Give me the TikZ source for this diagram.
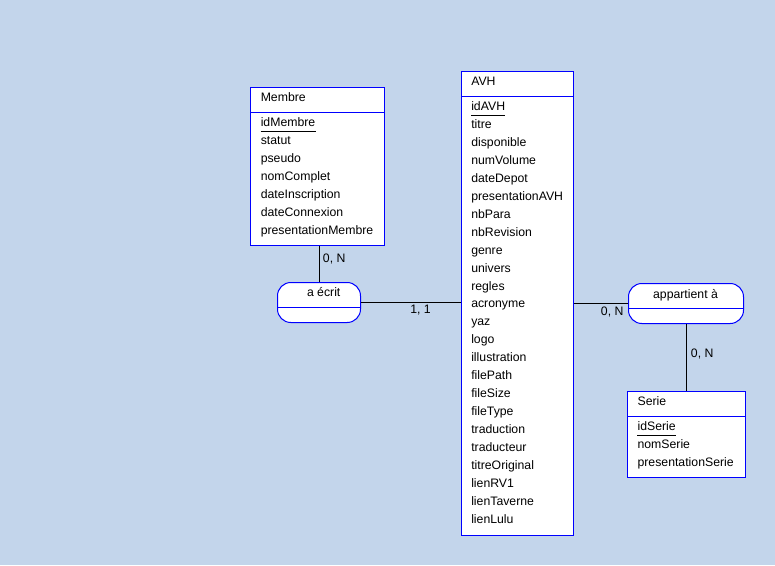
\documentclass[tikz,border=0pt]{standalone}
\usepackage{fontspec}
\setmainfont{Liberation Sans}
\definecolor{bg}{RGB}{195,213,235}
\begin{document}
\begin{tikzpicture}[x=0.75pt,y=-0.75pt,
  entity/.style={draw=blue, line width=0.75pt, fill=white, inner sep=0pt, anchor=north west},
  assoc/.style={entity, rounded corners=10pt},
  sep/.style={draw=blue, line width=0.75pt},
  txt/.style={inner sep=0pt, anchor=base west, font=\fontsize{9.2}{11}\selectfont},
  ctxt/.style={inner sep=0pt, anchor=base, font=\fontsize{9.2}{11}\selectfont},
  uline/.style={draw=black, line width=0.75pt},
  link/.style={draw=black, line width=0.75pt}]
\fill[bg] (0,0) rectangle (775,565);
\useasboundingbox (0,0) rectangle (775,565);

% Membre
\node[entity, minimum width=100.5pt, minimum height=118.5pt] (membre) at (250,87) {};
\draw[sep] (membre.north west) ++(0,25) -- ++(134,0);
\node[txt] (membre-h) at (260.5,101.7) {Membre};
\foreach \t [count=\i from 0] in {idMembre,statut,pseudo,nomComplet,dateInscription,dateConnexion,presentationMembre}
  \node[txt] (membre-\i) at (260.5,{126.5+17.95*\i}) {\t};
\draw[uline] ([yshift=-4.1pt]membre-0.base west) -- ([yshift=-4.1pt]membre-0.base east);

% AVH
\node[entity, minimum width=84pt, minimum height=348pt] (avh) at (461,71) {};
\draw[sep] (avh.north west) ++(0,25) -- ++(112,0);
\node[txt] (avh-h) at (471,85.7) {AVH};
\foreach \t [count=\i from 0] in {idAVH,titre,disponible,numVolume,dateDepot,presentationAVH,nbPara,nbRevision,genre,univers,regles,acronyme,yaz,logo,illustration,filePath,fileSize,fileType,traduction,traducteur,titreOriginal,lienRV1,lienTaverne,lienLulu}
  \node[txt] (avh-\i) at (471,{110.5+17.95*\i}) {\t};
\draw[uline] ([yshift=-4.1pt]avh-0.base west) -- ([yshift=-4.1pt]avh-0.base east);

% Serie
\node[entity, minimum width=88.5pt, minimum height=64.5pt] (serie) at (627,391) {};
\draw[sep] (serie.north west) ++(0,25) -- ++(118,0);
\node[txt] (serie-h) at (637.3,405.7) {Serie};
\foreach \t [count=\i from 0] in {idSerie,nomSerie,presentationSerie}
  \node[txt] (serie-\i) at (637.3,{430.5+17.95*\i}) {\t};
\draw[uline] ([yshift=-4.1pt]serie-0.base west) -- ([yshift=-4.1pt]serie-0.base east);

% associations
\node[assoc, minimum width=62.25pt, minimum height=30pt] (aecrit) at (277,282) {};
\draw[sep] (aecrit.north west) ++(0,25) -- ++(83,0);
\node[ctxt] (aecrit-t) at (323.7,296.7) {a écrit};

\node[assoc, minimum width=86.25pt, minimum height=30pt] (appart) at (628,283) {};
\draw[sep] (appart.north west) ++(0,25) -- ++(115,0);
\node[ctxt] (appart-t) at (685.5,298.3) {appartient à};

% links
\draw[link] (aecrit.north) -- (aecrit.north |- membre.south);
\draw[link] (aecrit.east) -- (aecrit.east -| avh.west);
\draw[link] (appart.west) -- (appart.west -| avh.east);
\draw[link] (appart.south) -- (appart.south |- serie.north);

% cardinalities
\node[txt] (c1) at (322.7,262.7) {0, N};
\node[txt] (c2) at (410,313.3) {1, 1};
\node[txt] (c3) at (600.7,315) {0, N};
\node[txt] (c4) at (690.7,357.3) {0, N};
\end{tikzpicture}
\end{document}
